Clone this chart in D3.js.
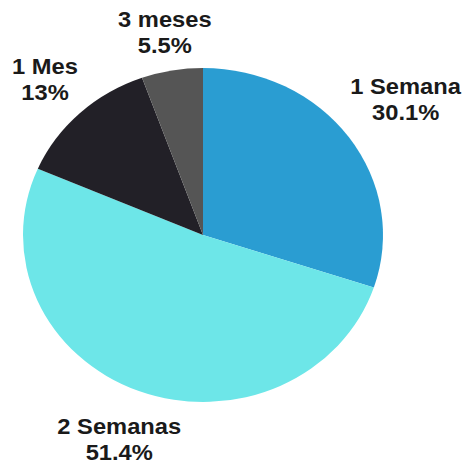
<!DOCTYPE html>
<html>
<head>
<meta charset="utf-8">
<script src="https://cdn.jsdelivr.net/npm/d3@7"></script>
<style>
  body { margin: 0; background: #fff; }
  svg text { font-family: "Liberation Sans", Arial, sans-serif; font-weight: bold; }
</style>
</head>
<body>
<svg id="chart"></svg>
<script>
const categories = ["1 Semana", "2 Semanas", "1 Mes", "3 meses"];
const values = [30.1, 51.4, 13, 5.5];
const colors = ["#2a9dd2", "#6de6e8", "#222027", "#555555"];

function drawChart() {
  const width = 467, height = 462;
  const rx = 180, ry = 167;          // picture is a bit stretched sideways
  const fontSize = 22, lineH = 26, capH = fontSize * 0.716, gap = 11;

  const svg = d3.select("#chart")
    .attr("width", width)
    .attr("height", height);

  const group = svg.append("g")
    .attr("transform", `translate(203, 235) scale(${rx / ry}, 1)`);

  const pie = d3.pie().sort(null).value(d => d);
  const arc = d3.arc().innerRadius(0).outerRadius(ry);
  const slices = pie(values);

  group.selectAll("path")
    .data(slices)
    .enter()
    .append("path")
    .attr("fill", (d, i) => colors[i])
    .attr("d", arc);

  // labels placed just outside each slice, pushed out by their own box size
  slices.forEach((d, i) => {
    const a = (d.startAngle + d.endAngle) / 2;
    const ux = Math.sin(a), uy = -Math.cos(a);

    const label = group.append("text")
      .attr("text-anchor", "middle")
      .attr("fill", "#1a1a1a")
      .style("font-size", fontSize + "px");

    const t1 = label.append("tspan").attr("x", 0).text(categories[i]);
    const t2 = label.append("tspan").attr("x", 0).attr("dy", lineH).text(values[i] + "%");

    const w = Math.max(t1.node().getComputedTextLength(), t2.node().getComputedTextLength());
    const h = lineH + capH;
    const dist = ry + gap + Math.abs(ux) * w / 2 + Math.abs(uy) * h / 2;
    const cx = ux * dist, cy = uy * dist;

    label.attr("y", cy - h / 2 + capH);
    t1.attr("x", cx);
    t2.attr("x", cx);
  });
}

drawChart();
</script>
</body>
</html>
